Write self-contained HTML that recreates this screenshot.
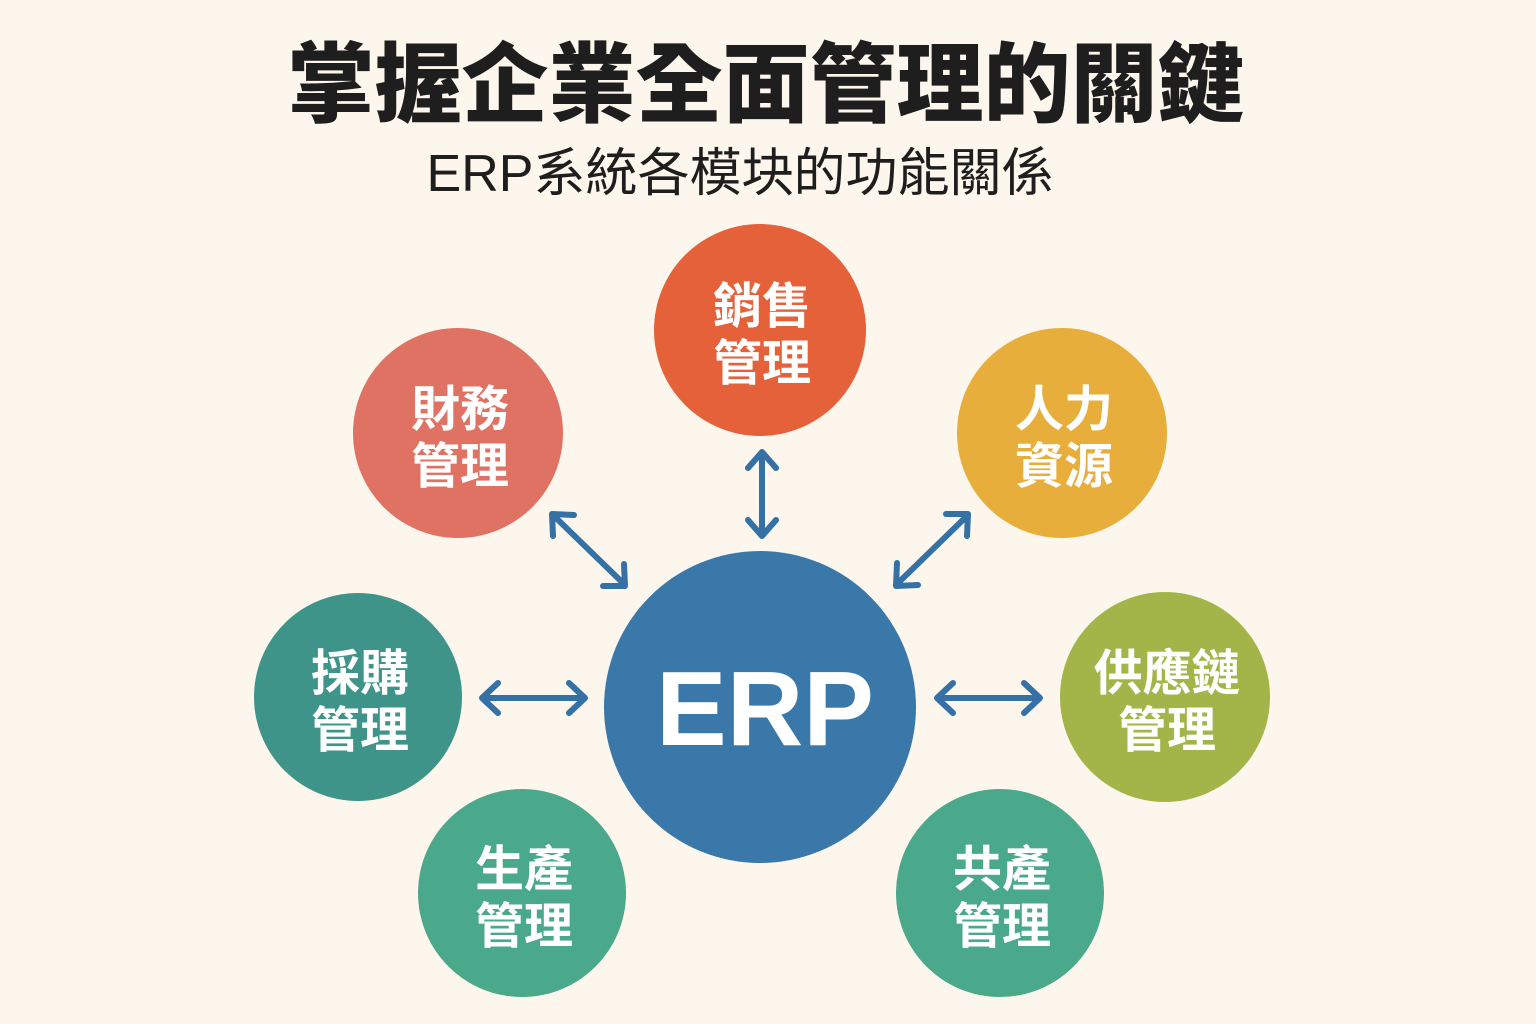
<!DOCTYPE html>
<html><head><meta charset="utf-8"><style>
html,body{margin:0;padding:0;background:#FCF6EC;}
body{width:1536px;height:1024px;overflow:hidden;position:relative;font-family:"Liberation Sans","Noto Sans CJK TC",sans-serif;}
.t{position:absolute;left:0;width:1536px;text-align:center;color:#1e1e1e;}
</style></head><body>
<div class="t" style="top:31px;font-size:87px;font-weight:900;line-height:110px;left:-2px;">掌握企業全面管理的關鍵</div>
<div class="t" style="top:143px;font-size:52px;line-height:62px;left:-28px;">ERP系統各模块的功能關係</div>
<svg width="1536" height="1024" style="position:absolute;left:0;top:0" font-family="Liberation Sans, Noto Sans CJK TC, sans-serif">
<g fill="#fff" font-weight="bold" text-anchor="middle" font-size="49">
<circle cx="760" cy="330" r="106" fill="#E5613A"/>
<text x="762" y="323">銷售</text><text x="762" y="380">管理</text>
<circle cx="458" cy="433" r="105" fill="#E07264"/>
<text x="460" y="426">財務</text><text x="460" y="483">管理</text>
<circle cx="1062" cy="433" r="105" fill="#E8AE3B"/>
<text x="1064" y="426">人力</text><text x="1064" y="483">資源</text>
<circle cx="358" cy="697" r="104" fill="#3E9489"/>
<text x="360" y="690">採購</text><text x="360" y="747">管理</text>
<circle cx="1165" cy="697" r="105" fill="#A3B549"/>
<text x="1167" y="690">供應鏈</text><text x="1167" y="747">管理</text>
<circle cx="522" cy="893" r="104" fill="#4AA88B"/>
<text x="524" y="886">生產</text><text x="524" y="943">管理</text>
<circle cx="1000" cy="893" r="104" fill="#4AA88B"/>
<text x="1002" y="886">共產</text><text x="1002" y="943">管理</text>
<circle cx="760" cy="707" r="156" fill="#3A78A9"/>
<text x="765" y="745" font-size="106">ERP</text>
</g>
<g stroke="#3571A5" stroke-width="6" fill="none" stroke-linecap="round" stroke-linejoin="round">
<path d="M762 454V534M748 468L762 452L776 468M748 520L762 536L776 520"/>
<path d="M553 515L624 584M553 536L552 514L574 515M603 586L625 586L624 564"/>
<path d="M968 515L897 584M946 514L968 514L967 536M897 563L896 586L918 585"/>
<path d="M483 698H584M498 683L482 698L498 713M569 683L585 698L569 713"/>
<path d="M937 698H1040M953 683L937 698L953 713M1024 683L1040 698L1024 713"/>
</g>
</svg>
</body></html>
